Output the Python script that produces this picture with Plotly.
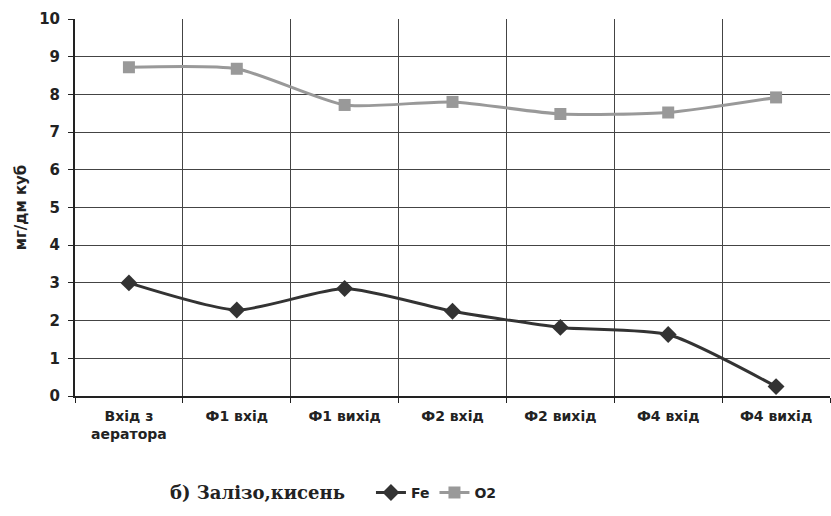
import plotly.graph_objects as go

categories = ["Вхід з<br>аератора", "Ф1 вхід", "Ф1 вихід", "Ф2 вхід", "Ф2 вихід", "Ф4 вхід", "Ф4 вихід"]
fe = [3.0, 2.28, 2.85, 2.25, 1.82, 1.63, 0.25]
o2 = [8.72, 8.68, 7.72, 7.8, 7.48, 7.52, 7.92]
y_ticks = list(range(0, 11))

SANS = "DejaVu Sans, Arial"
fig = go.Figure()
fig.add_trace(go.Scatter(
    x=categories, y=fe, name="Fe", mode="lines+markers",
    line=dict(color="#333333", width=3, shape="spline", smoothing=0.6),
    marker=dict(symbol="diamond", size=13, color="#333333"),
))
fig.add_trace(go.Scatter(
    x=categories, y=o2, name="O2", mode="lines+markers",
    line=dict(color="#999999", width=3, shape="spline", smoothing=0.6),
    marker=dict(symbol="square", size=12, color="#999999"),
))

fig.update_layout(
    width=831, height=516,
    margin=dict(l=75, r=1, t=19, b=120),
    paper_bgcolor="white", plot_bgcolor="white",
    font=dict(family=SANS, size=13, color="#222222"),
    showlegend=True,
    legend=dict(orientation="h", x=0.392, y=-0.257, xanchor="left", yanchor="middle",
                font=dict(family=SANS, size=14, color="#222222", weight="bold"),
                tracegroupgap=0),
    xaxis=dict(
        type="category", tickson="boundaries", showgrid=True, gridcolor="#444444", gridwidth=1,
        ticks="outside", ticklen=5, tickcolor="#222222", ticklabelstandoff=6,
        showline=True, linecolor="#222222", linewidth=2,
        tickfont=dict(family=SANS, size=14, color="#222222", weight="bold"),
        range=[-0.5, 6.5],
    ),
    yaxis=dict(
        range=[0, 10], tickvals=y_ticks, showgrid=True, gridcolor="#444444", gridwidth=1,
        ticks="outside", ticklen=5, tickcolor="#222222", ticklabelstandoff=5,
        showline=True, linecolor="#222222", linewidth=2, zeroline=False,
        tickfont=dict(family=SANS, size=15, color="#222222", weight="bold"),
        title=dict(text="мг/дм куб", standoff=9,
                   font=dict(family=SANS, size=15, color="#222222", weight="bold")),
    ),
    annotations=[dict(
        text="б) Залізо,кисень", xref="paper", yref="paper", x=(168 - 75) / 756, y=-0.257,
        xanchor="left", yanchor="middle", showarrow=False,
        font=dict(family="DejaVu Serif, Times New Roman", size=18, color="#222222", weight="bold"),
    )],
)

fig.write_html("out.html")
